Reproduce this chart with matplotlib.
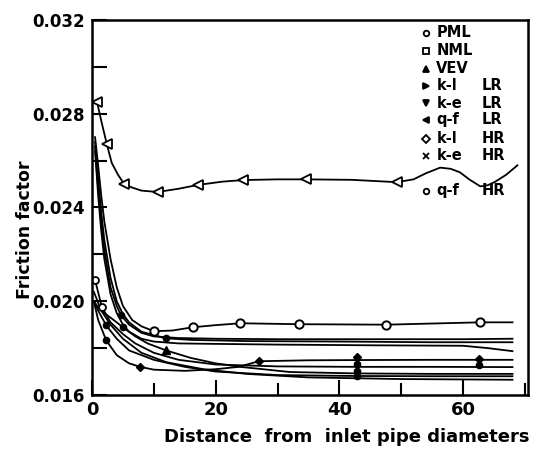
import matplotlib
matplotlib.use("Agg")
import matplotlib.pyplot as plt
from matplotlib.ticker import MultipleLocator, FuncFormatter

plt.rcParams['font.family'] = ['DejaVu Sans']

# ---------------- data ----------------
# q-f LR (upper curve, open left triangles)
qf_x = [0.8, 1.5, 2.4, 3.2, 4.2, 5.2, 6.5, 8, 10.6, 14, 17.1, 21, 24.4, 30, 34.6, 42, 49.3, 52, 54, 56.3, 58, 59.5, 61, 62.8, 64, 65.2, 67, 68.8]
qf_y = [0.02852, 0.0277, 0.0267, 0.0259, 0.0254, 0.0250, 0.02485, 0.02472, 0.02466, 0.0248, 0.02496, 0.0251, 0.02517, 0.0252, 0.0252, 0.02518, 0.02508, 0.0252, 0.02546, 0.0257, 0.02565, 0.0255, 0.0252, 0.0249, 0.02495, 0.0251, 0.0254, 0.0258]
qf_mx = [0.8, 2.4, 5.2, 10.6, 17.1, 24.4, 34.6, 49.3]
qf_my = [0.02852, 0.0267, 0.0250, 0.02466, 0.02496, 0.02517, 0.0252, 0.02508]

# NML (open circles, level 0.019)
nml_x = [0.5, 1, 1.5, 2, 3, 4, 5, 6.5, 8, 10, 13, 16.3, 20, 24, 33.5, 47.6, 62.8, 68]
nml_y = [0.0270, 0.0258, 0.0245, 0.0234, 0.0218, 0.0206, 0.0198, 0.0192, 0.01893, 0.01872, 0.01875, 0.01889, 0.01898, 0.01906, 0.01902, 0.0190, 0.0191, 0.0191]
nml_mx = [10, 16.3, 24, 33.5, 47.6, 62.8]
nml_my = [0.01872, 0.01889, 0.01906, 0.01902, 0.0190, 0.0191]

# steep curves ending near 0.0183
c2_x = [0.5, 1, 1.5, 2, 3, 4, 5, 6, 8, 11.9, 16, 25, 40, 55, 68]
c2_y = [0.0268, 0.0252, 0.0238, 0.0226, 0.0210, 0.0200, 0.01945, 0.0191, 0.0187, 0.01842, 0.01835, 0.0183, 0.01828, 0.01825, 0.01825]
c3_x = [0.5, 1, 1.5, 2, 3, 4, 4.7, 6, 8, 10, 14, 20, 30, 45, 60, 68]
c3_y = [0.0266, 0.0248, 0.0233, 0.0222, 0.0206, 0.0198, 0.0194, 0.0190, 0.01865, 0.0185, 0.01843, 0.0184, 0.01838, 0.01838, 0.01838, 0.0184]
c4_x = [0.5, 1, 1.5, 2, 3, 4, 5, 6, 8, 10, 14, 20, 30, 45, 60, 64, 68]
c4_y = [0.0264, 0.0245, 0.0230, 0.0218, 0.0203, 0.0195, 0.0190, 0.0187, 0.0184, 0.01828, 0.0182, 0.01818, 0.01815, 0.01812, 0.0181, 0.0180, 0.01787]

# k-l HR (diamonds, rising to 0.0175)
kl_x = [0.3, 1, 2.3, 4, 6, 7.8, 10, 15, 20, 23.7, 27, 35, 42.8, 55, 62.6, 68]
kl_y = [0.0200, 0.0192, 0.01833, 0.0177, 0.01735, 0.0172, 0.01708, 0.01703, 0.0171, 0.0172, 0.01744, 0.01748, 0.01749, 0.0175, 0.0175, 0.0175]

# PML-like (open circle start)
p_x = [0.5, 1.6, 3, 5, 7, 10, 14, 20, 30, 42.8, 55, 68]
p_y = [0.0209, 0.01975, 0.0191, 0.0186, 0.0182, 0.0178, 0.0175, 0.0173, 0.01722, 0.0172, 0.0172, 0.01719]

# VEV (filled triangle)
v_x = [0.3, 1, 2, 3.5, 5, 7, 9, 12, 16, 20, 24, 32, 42.8, 55, 68]
v_y = [0.0200, 0.01975, 0.0195, 0.0192, 0.01889, 0.0185, 0.0182, 0.0179, 0.01758, 0.01735, 0.0172, 0.01698, 0.01692, 0.0169, 0.0169]

# lower curves
l8_x = [0.3, 1, 2.3, 4, 6, 10, 15, 20, 30, 42.8, 55, 68]
l8_y = [0.0200, 0.0196, 0.01897, 0.0184, 0.0179, 0.0175, 0.0172, 0.0170, 0.01685, 0.01681, 0.0168, 0.0168]
l9_x = [0.3, 1.5, 3, 5, 8, 12, 18, 25, 35, 50, 68]
l9_y = [0.0204, 0.0196, 0.0190, 0.0184, 0.0178, 0.0174, 0.0171, 0.0169, 0.01675, 0.01668, 0.01665]

# filled markers seen on the lower curves
fm_x = [4.7, 5, 11.9, 2.3, 2.3, 42.8, 42.8, 42.8, 62.6]
fm_y = [0.0194, 0.01889, 0.01842, 0.01897, 0.01833, 0.01731, 0.01701, 0.01681, 0.0173]
dm_x = [7.8, 27, 42.8, 62.6]
dm_y = [0.0172, 0.01744, 0.01761, 0.01753]
tri_x = [12]
tri_y = [0.0179]
oc_x = [0.5, 1.6]
oc_y = [0.0209, 0.01975]

legend_labels = ["PML", "NML", "VEV", "k-l", "k-e", "q-f", "k-l", "k-e", "q-f"]
legend_suffix = ["", "", "", "LR", "LR", "LR", "HR", "HR", "HR"]
legend_markers = ["o", "s", "^", ">", "v", "<", "D", "x", "o"]
legend_filled = [False, False, True, True, True, True, False, False, False]

# ---------------- figure ----------------
fig = plt.figure(figsize=(5.36, 4.49), dpi=100)
ax = fig.add_axes([0.1716, 0.1203, 0.985 - 0.1716, 0.9555 - 0.1203])

lw = 1.3
k = 'black'
ax.plot(qf_x, qf_y, color=k, lw=lw)
ax.plot(qf_mx, qf_my, ls='none', marker='<', ms=7, mfc='white', mec=k, mew=1.3)
for xs, ys in [(nml_x, nml_y), (c2_x, c2_y), (c3_x, c3_y), (c4_x, c4_y), (kl_x, kl_y),
               (p_x, p_y), (v_x, v_y), (l8_x, l8_y), (l9_x, l9_y)]:
    ax.plot(xs, ys, color=k, lw=lw)
ax.plot(nml_mx, nml_my, ls='none', marker='o', ms=6, mfc='white', mec=k, mew=1.4)
ax.plot(fm_x, fm_y, ls='none', marker='o', ms=4.5, mfc=k, mec=k)
ax.plot(dm_x, dm_y, ls='none', marker='D', ms=4.5, mfc=k, mec=k)
ax.plot(tri_x, tri_y, ls='none', marker='^', ms=5.5, mfc=k, mec=k)
ax.plot(oc_x, oc_y, ls='none', marker='o', ms=5, mfc='white', mec=k, mew=1.3)

ax.set_xlim(0, 70.5)
ax.set_ylim(0.016, 0.032)
ax.xaxis.set_major_locator(MultipleLocator(20))
ax.xaxis.set_minor_locator(MultipleLocator(10))
ax.yaxis.set_major_locator(MultipleLocator(0.004))
ax.yaxis.set_minor_locator(MultipleLocator(0.002))
ax.xaxis.set_major_formatter(FuncFormatter(lambda v, p: f"{v:.0f}"))
ax.yaxis.set_major_formatter(FuncFormatter(lambda v, p: f"{v:.3f}"))
ax.tick_params(which='both', direction='in', width=1.5, color=k)
ax.tick_params(axis='x', which='major', length=11, labelsize=13, pad=4)
ax.tick_params(axis='x', which='minor', length=9)
ax.tick_params(axis='y', which='both', length=11, labelsize=12, pad=5)
for lab in ax.get_xticklabels() + ax.get_yticklabels():
    lab.set_fontweight('bold')
for s in ax.spines.values():
    s.set_linewidth(1.8)

ax.set_xlabel("Distance  from  inlet pipe diameters", fontsize=13, fontweight='bold')
ax.xaxis.set_label_coords(0.585, -0.088)
ax.set_ylabel("Friction factor", fontsize=12.5, fontweight='bold')
ax.yaxis.set_label_coords(-0.133, 0.44)

# legend (hand placed, axes fraction)
row_y = [0.966, 0.918, 0.870, 0.824, 0.778, 0.734, 0.683, 0.638, 0.545]
for lbl, suf, m, filled, yy in zip(legend_labels, legend_suffix, legend_markers, legend_filled, row_y):
    ax.plot([0.765], [yy], transform=ax.transAxes, ls='none', marker=m, ms=4,
            mfc=k if filled else 'white', mec=k, mew=1.3, clip_on=False)
    ax.text(0.79, yy, lbl, transform=ax.transAxes, fontsize=10.5, fontweight='bold',
            va='center', ha='left')
    if suf:
        ax.text(0.893, yy, suf, transform=ax.transAxes, fontsize=10.5, fontweight='bold',
                va='center', ha='left')

fig.savefig("out.png", dpi=100)
